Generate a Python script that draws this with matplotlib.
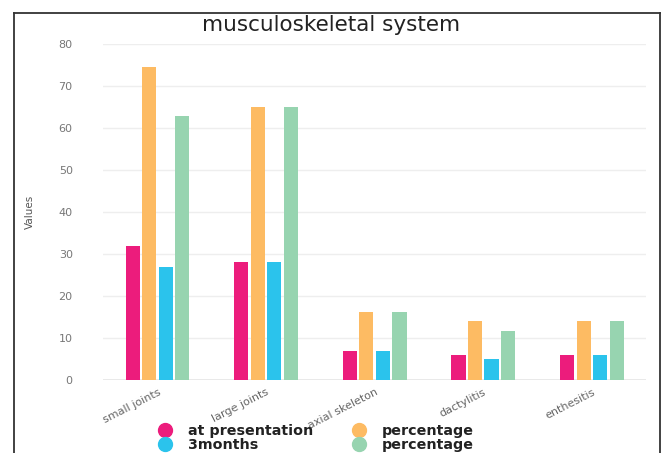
import matplotlib
matplotlib.use('Agg')
import matplotlib.pyplot as plt
from matplotlib.lines import Line2D
import numpy as np

# data
categories = ['small joints', 'large joints', 'axial skeleton', 'dactylitis', 'enthesitis']
at_presentation = [32, 28, 7, 6, 6]
pct_presentation = [74.4, 65.1, 16.3, 14.0, 14.0]
three_months = [27, 28, 7, 5, 6]
pct_three_months = [62.8, 65.1, 16.3, 11.6, 14.0]
series_labels = ['at presentation', 'percentage', '3months', 'percentage']
colors = ['#ec1c7c', '#fdbb63', '#2bc3ec', '#97d4b0']

fig = plt.figure(figsize=(6.62, 4.53), dpi=100)
ax = fig.add_axes([0.156, 0.161, 0.82, 0.742])

x = np.arange(len(categories))
width = 0.13
step = 0.152
series = [at_presentation, pct_presentation, three_months, pct_three_months]
for i, (vals, col) in enumerate(zip(series, colors)):
    ax.bar(x + (i - 1.5) * step, vals, width, color=col, zorder=3)

ax.set_xlim(-0.5, len(categories) - 0.5)
ax.set_ylim(0, 80)
ax.set_yticks(range(0, 81, 10))
ax.grid(axis='y', color='#eeeeee', linewidth=1, zorder=0)
for s in ax.spines.values():
    s.set_visible(False)
ax.axhline(0, color='#e6e6e6', linewidth=1.2, zorder=2)
ax.tick_params(length=0, colors='#777777', labelsize=8, pad=22)
ax.tick_params(axis='x', pad=5)
ax.set_xticks(x)
ax.set_xticklabels(categories, rotation=27, ha='right', rotation_mode='anchor',
                   fontsize=8, color='#666666')
ax.set_ylabel('Values', fontsize=7.5, color='#555555')
ax.yaxis.set_label_coords(-0.125, 0.5)

fig.text(0.5, 0.945, 'musculoskeletal system', ha='center', va='center',
         fontsize=15.5, color='#222222')

# legend at the bottom, columns filled top to bottom
order = [0, 2, 1, 3]
handles = [Line2D([], [], marker='o', linestyle='', markersize=10,
                  markerfacecolor=colors[i], markeredgecolor=colors[i]) for i in order]
labels = [series_labels[i] for i in order]
leg = fig.legend(handles, labels, loc='center', ncol=2,
                 bbox_to_anchor=(0.476, 0.034), frameon=False,
                 prop={'weight': 'bold', 'size': 10.3},
                 handletextpad=1.0, columnspacing=2.6, labelspacing=0.0,
                 handlelength=1.2, borderpad=0.1)
for t in leg.get_texts():
    t.set_color('#222222')

# dark frame around the picture (open at the bottom)
frame_col = '#333333'
l, r, top = 14 / 662, 660 / 662, 1 - 13 / 453
fig.add_artist(Line2D([l, r], [top, top], color=frame_col, linewidth=1.3,
                      transform=fig.transFigure))
fig.add_artist(Line2D([l, l], [0, top], color=frame_col, linewidth=1.3,
                      transform=fig.transFigure))
fig.add_artist(Line2D([r, r], [0, top], color=frame_col, linewidth=1.3,
                      transform=fig.transFigure))

fig.savefig('out.png', dpi=100)
